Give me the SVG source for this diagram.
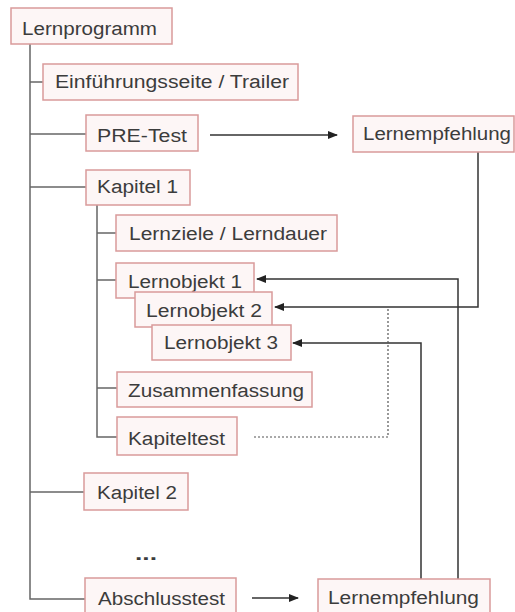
<svg xmlns="http://www.w3.org/2000/svg" width="515" height="612" viewBox="0 0 515 612">
<style>
.box{fill:#fdf6f6;stroke:#d99a9a;stroke-width:1.5}
.t{font-family:"Liberation Sans",Arial,sans-serif;font-size:18px;fill:#3c3c3c}
.tree{fill:none;stroke:#666;stroke-width:1.5}
.arr{fill:none;stroke:#333;stroke-width:1.5}
.dot{fill:none;stroke:#555;stroke-width:1.2;stroke-dasharray:2,2}
</style>
<defs>
<marker id="ah" markerWidth="10" markerHeight="8" refX="9" refY="4" orient="auto" markerUnits="userSpaceOnUse">
<path d="M0,0 L10,4 L0,8 Z" fill="#222"/>
</marker>
</defs>
<rect width="515" height="612" fill="#fff"/>
<g id="connectors">
<path class="tree" d="M30,44 V599 H85"/>
<path class="tree" d="M30,82 H43"/>
<path class="tree" d="M30,134 H86"/>
<path class="tree" d="M30,187 H86"/>
<path class="tree" d="M30,492 H84"/>
<path class="tree" d="M97,205 V437 H117"/>
<path class="tree" d="M97,233 H116"/>
<path class="tree" d="M97,280 H116"/>
<path class="tree" d="M97,388 H117"/>
<path class="arr" d="M210,135 H337" marker-end="url(#ah)"/>
<path class="arr" d="M478,152 V307 H275" marker-end="url(#ah)"/>
<path class="arr" d="M458,579 V279 H257" marker-end="url(#ah)"/>
<path class="arr" d="M421,579 V343 H293" marker-end="url(#ah)"/>
<path class="arr" d="M252,598 H298" marker-end="url(#ah)"/>
<path class="dot" d="M388,309 V437 H253"/>
</g>
<g id="n-lernprogramm"><rect class="box" x="11" y="8" width="161" height="36"/><text class="t" x="22" y="35" textLength="135" lengthAdjust="spacingAndGlyphs">Lernprogramm</text></g>
<g id="n-einfuehrung"><rect class="box" x="43" y="64" width="255" height="36"/><text class="t" x="55" y="88" textLength="234" lengthAdjust="spacingAndGlyphs">Einführungsseite / Trailer</text></g>
<g id="n-pretest"><rect class="box" x="86" y="115" width="112" height="36"/><text class="t" x="97" y="142" textLength="90" lengthAdjust="spacingAndGlyphs">PRE-Test</text></g>
<g id="n-lernempfehlung1"><rect class="box" x="353" y="116" width="161" height="36"/><text class="t" x="363" y="140" textLength="148" lengthAdjust="spacingAndGlyphs">Lernempfehlung</text></g>
<g id="n-kapitel1"><rect class="box" x="86" y="170" width="104" height="35"/><text class="t" x="97" y="193" textLength="81" lengthAdjust="spacingAndGlyphs">Kapitel 1</text></g>
<g id="n-lernziele"><rect class="box" x="116" y="215" width="221" height="36"/><text class="t" x="129" y="240" textLength="198" lengthAdjust="spacingAndGlyphs">Lernziele / Lerndauer</text></g>
<g id="n-lernobjekt1"><rect class="box" x="116" y="263" width="138" height="35"/><text class="t" x="128" y="288" textLength="114" lengthAdjust="spacingAndGlyphs">Lernobjekt 1</text></g>
<g id="n-lernobjekt2"><rect class="box" x="135" y="292" width="137" height="35"/><text class="t" x="146" y="317" textLength="116" lengthAdjust="spacingAndGlyphs">Lernobjekt 2</text></g>
<g id="n-lernobjekt3"><rect class="box" x="152" y="325" width="139" height="35"/><text class="t" x="164" y="349" textLength="114" lengthAdjust="spacingAndGlyphs">Lernobjekt 3</text></g>
<g id="n-zusammenfassung"><rect class="box" x="117" y="372" width="195" height="35"/><text class="t" x="128" y="397" textLength="176" lengthAdjust="spacingAndGlyphs">Zusammenfassung</text></g>
<g id="n-kapiteltest"><rect class="box" x="117" y="417" width="120" height="38"/><text class="t" x="128" y="445" textLength="97" lengthAdjust="spacingAndGlyphs">Kapiteltest</text></g>
<g id="n-kapitel2"><rect class="box" x="84" y="473" width="104" height="37"/><text class="t" x="97" y="499" textLength="80" lengthAdjust="spacingAndGlyphs">Kapitel 2</text></g>
<g id="n-dots"><text class="t" x="135" y="560" textLength="22" lengthAdjust="spacingAndGlyphs" font-weight="bold">...</text></g>
<g id="n-abschlusstest"><rect class="box" x="85" y="578" width="151" height="40"/><text class="t" x="98" y="605" textLength="127" lengthAdjust="spacingAndGlyphs">Abschlusstest</text></g>
<g id="n-lernempfehlung2"><rect class="box" x="318" y="579" width="172" height="40"/><text class="t" x="328" y="604" textLength="151" lengthAdjust="spacingAndGlyphs">Lernempfehlung</text></g>
</svg>
